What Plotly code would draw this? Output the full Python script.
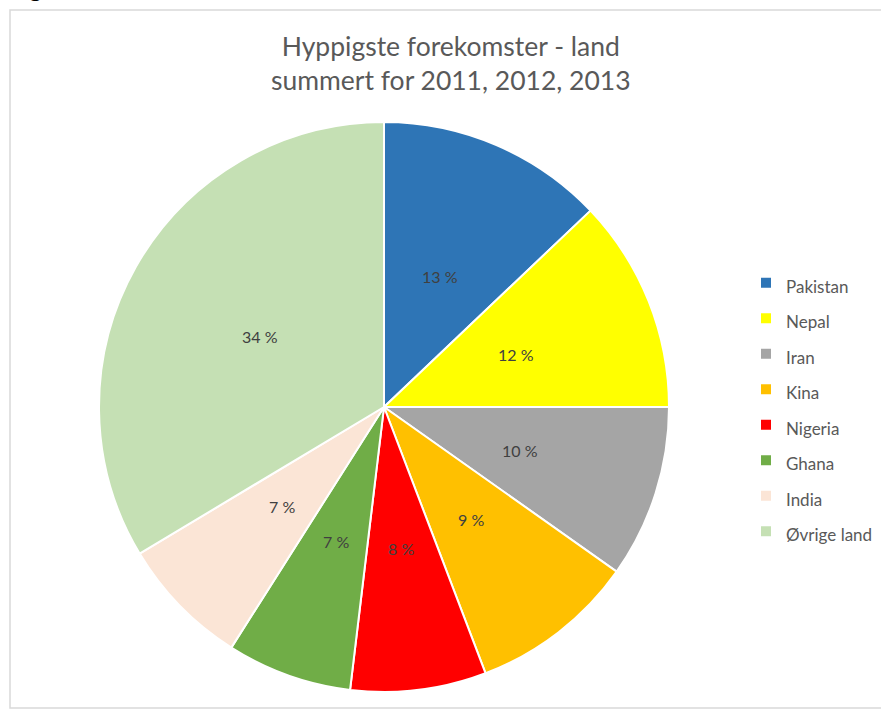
import math

import plotly.graph_objects as go

W, H = 881, 710

countries = ["Pakistan", "Nepal", "Iran", "Kina", "Nigeria", "Ghana", "India", "Øvrige land"]
shares = [12.9, 12.1, 9.8, 9.4, 7.7, 7.1, 7.4, 33.6]
colors = ["#2E75B6", "#FFFF00", "#A5A5A5", "#FFC000", "#FF0000", "#70AD47", "#FBE5D6", "#C5E0B4"]

FONT = "Lato"
LABEL_R = 0.5  # data labels sit halfway out, like Excel's default

# legend entries get a large legend font for spacing, text itself kept smaller
legend_labels = [f"<span style='font-size:17px'>{c}</span>" for c in countries]


def px_x(x):
    return x / W


def px_y(y):
    return 1 - y / H


pie_x = [px_x(99), px_x(669)]
pie_y = [px_y(692), px_y(122)]

fig = go.Figure()
fig.add_trace(
    go.Pie(
        labels=legend_labels,
        values=shares,
        sort=False,
        direction="clockwise",
        rotation=0,
        marker=dict(colors=colors, line=dict(color="white", width=2)),
        textinfo="none",
        hovertemplate="%{value:.0f} %<extra></extra>",
        domain=dict(x=pie_x, y=pie_y),
    )
)

# data labels at the slice mid-angles (clockwise from 12 o'clock), placed on
# a hidden axis pair that spans the pie's square domain
total = sum(shares)
cum = 0.0
for s in shares:
    ang = 2 * math.pi * (cum + s / 2) / total
    fig.add_annotation(
        x=LABEL_R * math.sin(ang), y=LABEL_R * math.cos(ang),
        xref="x", yref="y", text=f"{s:.0f} %", showarrow=False,
        font=dict(family=FONT, size=16, color="#404040"),
    )
    cum += s

fig.add_annotation(
    text="Hyppigste forekomster - land<br>summert for 2011, 2012, 2013",
    x=px_x(451), y=px_y(28), xref="paper", yref="paper",
    xanchor="center", yanchor="top", showarrow=False,
    font=dict(family=FONT, size=26.5, color="#595959"),
)
fig.add_annotation(
    text="Figur 3.",
    x=px_x(7), y=px_y(4), xref="paper", yref="paper",
    xanchor="left", yanchor="bottom", showarrow=False,
    font=dict(family=FONT, size=25, color="#000000"),
)

fig.update_layout(
    width=W,
    height=H,
    margin=dict(l=0, r=0, t=0, b=0),
    paper_bgcolor="white",
    plot_bgcolor="rgba(0,0,0,0)",
    font=dict(family=FONT, color="#595959"),
    xaxis=dict(domain=pie_x, range=[-1, 1], visible=False, fixedrange=True),
    yaxis=dict(domain=pie_y, range=[-1, 1], visible=False, fixedrange=True),
    shapes=[
        dict(
            type="rect", xref="paper", yref="paper",
            x0=px_x(10), x1=px_x(W + 50), y0=px_y(708), y1=px_y(10),
            line=dict(color="#D9D9D9", width=1.5), fillcolor="rgba(0,0,0,0)",
        )
    ],
    legend=dict(
        x=px_x(746), y=px_y(260), xanchor="left", yanchor="top",
        font=dict(family=FONT, size=25, color="#595959"),
        bgcolor="rgba(0,0,0,0)",
    ),
)

fig.write_html(
    "out.html",
    config={"displayModeBar": False},
    post_script="document.body.style.margin='0';",
)
